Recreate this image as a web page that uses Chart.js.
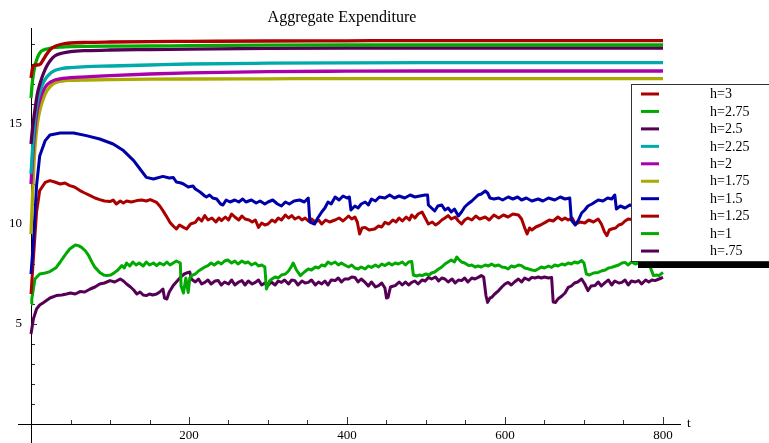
<!DOCTYPE html>
<html><head><meta charset="utf-8">
<script src="https://cdn.jsdelivr.net/npm/chart.js@4/dist/chart.umd.min.js"></script>
<style>html,body{margin:0;padding:0;background:#fff}#wrap{width:769px;height:443px;position:relative}</style>
</head><body><div id="wrap"><canvas id="c" width="769" height="443"></canvas></div>
<script>
const titleText = 'Aggregate Expenditure';
const axisLabelX = 't';
const seriesLabels = ['h=3','h=2.75','h=2.5','h=2.25','h=2','h=1.75','h=1.5','h=1.25','h=1','h=.75'];
const seriesColors = ['#aa0000','#00aa00','#550055','#00aaaa','#aa00aa','#aaaa00','#0000aa','#aa0000','#00aa00','#550055'];
const xTickLabels = [200,400,600,800];
const yTickLabels = [5,10,15];

// smooth high-h series on a shared time grid
const tSmooth = [0,2,5,8,12,16,20,25,30,40,50,70,100,150,200,300,400,500,600,800];
const h300 = [17.3,17.8,17.95,17.95,18.0,18.25,18.5,18.75,18.88,19.0,19.05,19.08,19.1,19.12,19.13,19.15,19.16,19.17,19.17,19.17];
const h275 = [16.3,17.2,17.9,18.3,18.6,18.7,18.75,18.8,18.83,18.85,18.87,18.88,18.89,18.9,18.92,18.94,18.95,18.95,18.95,18.95];
const h250 = [14.0,14.8,15.7,16.5,17.1,17.55,17.9,18.2,18.4,18.55,18.62,18.67,18.7,18.72,18.74,18.78,18.8,18.8,18.8,18.8];
const h225 = [12.5,13.8,15.3,16.1,16.7,17.1,17.35,17.55,17.68,17.78,17.82,17.87,17.9,17.95,18.0,18.04,18.06,18.07,18.07,18.07];
const h200 = [12.0,13.3,14.8,15.7,16.3,16.7,16.95,17.1,17.2,17.28,17.32,17.36,17.42,17.5,17.56,17.62,17.64,17.65,17.65,17.65];
const h175 = [9.5,11.5,13.8,15.0,15.8,16.3,16.65,16.9,17.05,17.15,17.18,17.2,17.22,17.24,17.25,17.26,17.27,17.27,17.27,17.27];

// noisy low-h series as [t, value] readings
const h150 = [[0,7.5],[3,9.1],[7,11.9],[11,13.4],[18,14.17],[24,14.45],[37,14.55],[54,14.55],[70,14.42],[87,14.25],[104,14.0],[117,13.67],[130,13.17],[138,12.75],[146,12.33],[155,12.25],[167,12.38],[175,12.3],[180,12.33],[184,12.1],[190,12.05],[193,12.0],[199,11.85],[205,11.9],[208,11.75],[214,11.6],[220,11.4],[222,11.35],[226,11.45],[230,11.3],[235,11.25],[240,11.0],[243,10.95],[247,11.2],[252,11.1],[258,11.2],[263,11.1],[268,11.25],[272,11.1],[279,11.2],[285,11.05],[290,11.15],[296,11.0],[300,11.1],[306,11.2],[312,11.0],[317,10.9],[322,11.1],[327,11.0],[333,11.15],[340,11.2],[346,11.1],[351,11.3],[353,10.1],[359,10.0],[363,10.3],[368,10.6],[372,10.8],[376,11.1],[380,11.0],[385,11.35],[390,11.2],[395,11.4],[400,11.3],[403,11.35],[405,10.7],[410,10.9],[414,10.8],[418,11.0],[423,11.1],[427,10.95],[431,11.25],[436,11.15],[441,11.35],[448,11.3],[454,11.45],[460,11.3],[466,11.4],[473,11.3],[480,11.45],[486,11.35],[492,11.4],[499,11.45],[502,11.45],[503,10.95],[507,10.8],[511,10.65],[515,10.9],[520,10.95],[524,10.7],[528,10.8],[532,10.6],[536,10.75],[541,10.4],[545,10.6],[549,10.85],[553,11.0],[558,11.15],[562,11.3],[566,11.45],[570,11.5],[575,11.65],[578,11.55],[581,11.3],[586,11.25],[592,11.3],[597,11.2],[604,11.35],[610,11.25],[616,11.35],[621,11.2],[627,11.3],[634,11.15],[642,11.25],[648,11.15],[655,11.3],[663,11.2],[670,11.35],[676,11.25],[682,11.3],[684,10.2],[689,9.95],[693,10.2],[697,10.55],[701,10.7],[705,10.9],[710,11.0],[714,11.1],[718,11.2],[724,11.15],[730,11.3],[735,11.25],[739,11.45],[741,10.75],[746,10.9],[752,10.8],[758,10.95],[765,10.85],[775,11.0],[785,10.9],[800,11.0]];
const h125 = [[0,6.5],[3,8.25],[7,10.58],[11,11.67],[18,12.08],[24,12.17],[30,12.1],[37,12.0],[43,12.05],[49,11.92],[55,11.85],[62,11.67],[68,11.55],[75,11.42],[81,11.3],[87,11.22],[93,11.15],[100,11.12],[104,11.2],[108,11.0],[113,11.15],[117,11.05],[121,11.15],[127,11.1],[134,11.17],[140,11.2],[146,11.15],[151,11.22],[159,11.08],[163,10.9],[167,10.67],[172,10.35],[176,10.08],[180,9.9],[184,9.75],[188,9.95],[193,9.83],[197,9.75],[202,10.0],[208,10.08],[212,10.3],[216,10.15],[220,10.42],[224,10.2],[229,10.3],[234,10.1],[238,10.3],[241,10.17],[246,10.35],[250,10.2],[254,10.5],[258,10.35],[263,10.2],[267,10.4],[271,10.25],[276,10.2],[280,10.1],[284,10.2],[288,9.83],[292,10.05],[296,9.95],[300,10.0],[305,10.2],[309,10.1],[313,10.3],[317,10.2],[322,10.45],[326,10.3],[330,10.42],[334,10.25],[339,10.35],[343,10.2],[347,10.3],[351,10.15],[355,10.25],[360,10.1],[364,10.2],[368,10.0],[373,10.2],[378,10.1],[385,10.2],[390,10.3],[395,10.15],[402,10.4],[406,10.25],[410,10.35],[413,10.1],[416,9.5],[419,9.8],[423,9.83],[428,9.7],[435,9.75],[440,9.9],[444,9.85],[448,10.08],[453,10.0],[458,10.2],[462,10.1],[466,10.3],[470,10.15],[475,10.35],[479,10.2],[482,10.45],[486,10.3],[490,10.5],[495,10.6],[499,10.3],[503,10.0],[508,10.1],[512,9.95],[516,10.05],[520,10.2],[524,10.3],[528,10.42],[532,10.25],[537,10.35],[541,10.15],[545,10.0],[549,10.2],[553,10.3],[558,10.2],[563,10.4],[568,10.25],[575,10.35],[580,10.2],[586,10.45],[592,10.3],[598,10.45],[604,10.35],[610,10.5],[617,10.45],[621,10.25],[625,9.8],[628,9.5],[631,9.8],[634,9.7],[639,9.85],[645,9.95],[651,10.08],[656,10.2],[661,10.15],[667,10.35],[672,10.2],[676,10.3],[680,10.2],[685,10.3],[689,10.0],[695,10.1],[701,10.05],[706,10.2],[712,10.1],[718,10.25],[722,10.0],[726,9.6],[729,9.42],[732,9.7],[735,9.75],[740,9.8],[744,9.95],[748,10.0],[752,10.15],[756,10.25],[765,10.2],[775,10.3],[785,10.2],[800,10.25]];
const h100 = [[0,6.0],[1,6.25],[5,7.25],[11,7.5],[18,7.55],[24,7.62],[32,7.83],[37,8.1],[41,8.33],[45,8.55],[49,8.75],[56,8.95],[60,8.92],[64,8.83],[69,8.65],[73,8.42],[77,8.1],[81,7.83],[87,7.58],[92,7.45],[96,7.42],[101,7.45],[106,7.58],[110,7.7],[115,7.92],[118,7.8],[121,8.05],[125,7.9],[129,8.1],[133,7.95],[137,8.05],[142,7.9],[146,8.1],[150,7.95],[155,8.05],[159,7.92],[163,8.05],[168,7.95],[172,8.1],[176,7.95],[180,8.05],[184,8.15],[189,8.05],[190,6.9],[193,6.55],[196,7.3],[199,6.58],[201,7.3],[203,7.42],[208,7.5],[212,7.65],[216,7.75],[220,7.85],[224,7.92],[228,8.05],[232,7.95],[237,8.1],[241,8.0],[245,8.15],[249,8.2],[254,8.05],[258,8.15],[262,8.0],[267,8.15],[271,8.05],[275,8.1],[279,7.95],[284,8.05],[288,7.9],[292,7.95],[296,7.85],[298,6.75],[302,7.15],[305,7.25],[309,7.35],[313,7.3],[317,7.45],[322,7.5],[326,7.65],[330,7.9],[332,8.05],[336,7.7],[341,7.42],[346,7.6],[351,7.75],[355,7.7],[360,7.85],[364,7.8],[368,7.95],[372,7.9],[376,8.1],[380,8.0],[385,8.1],[389,7.95],[393,8.05],[397,7.95],[402,7.85],[406,7.95],[410,7.8],[414,7.75],[418,7.85],[423,7.75],[427,7.9],[431,7.83],[436,7.95],[440,7.85],[444,8.0],[448,7.92],[453,8.05],[457,7.95],[461,8.05],[465,8.0],[470,8.1],[474,7.95],[478,8.1],[482,8.12],[484,7.45],[488,7.4],[492,7.45],[495,7.42],[500,7.5],[504,7.45],[507,7.55],[511,7.6],[516,7.75],[520,7.85],[524,8.0],[528,8.1],[532,8.2],[536,8.1],[539,8.35],[541,8.25],[545,8.1],[549,8.05],[554,7.92],[558,7.95],[562,7.85],[566,7.9],[570,7.85],[575,7.95],[579,7.9],[583,8.0],[587,7.9],[592,7.95],[596,7.85],[600,7.83],[604,7.75],[608,7.9],[612,7.85],[617,7.95],[621,7.92],[625,7.8],[630,7.75],[634,7.7],[638,7.67],[642,7.75],[646,7.85],[650,7.8],[655,7.9],[659,7.83],[663,7.95],[667,7.9],[672,8.0],[676,7.95],[680,8.05],[684,8.0],[688,8.1],[692,8.05],[697,8.17],[700,8.05],[703,7.5],[707,7.45],[712,7.55],[718,7.58],[722,7.65],[727,7.7],[731,7.8],[735,7.83],[740,7.9],[744,7.95],[748,8.05],[752,8.08],[756,7.95],[760,8.1],[765,8.0],[769,8.05],[773,7.95],[778,8.05],[784,7.83],[788,7.42],[792,7.45],[795,7.42],[800,7.58]];
const h075 = [[0,4.5],[3,5.25],[7,5.75],[11,5.95],[16,6.08],[24,6.3],[32,6.42],[39,6.45],[45,6.5],[50,6.55],[56,6.5],[62,6.62],[68,6.6],[75,6.75],[81,6.85],[87,7.0],[93,7.05],[100,7.17],[106,7.1],[113,7.25],[117,7.15],[121,7.0],[126,6.85],[130,6.7],[134,6.5],[138,6.6],[142,6.45],[146,6.42],[150,6.5],[154,6.45],[159,6.5],[163,6.6],[167,6.75],[169,6.3],[172,6.25],[175,6.6],[180,6.92],[184,7.1],[189,7.33],[194,7.5],[199,7.58],[201,7.6],[203,7.25],[208,7.1],[212,7.25],[216,7.0],[220,7.08],[224,7.2],[228,7.0],[233,7.15],[237,7.17],[241,6.95],[245,7.1],[250,7.0],[254,7.2],[258,6.95],[263,7.1],[267,7.17],[271,6.95],[275,7.15],[280,7.0],[284,7.08],[288,7.2],[292,6.95],[296,7.05],[300,6.92],[304,7.1],[309,6.95],[313,7.15],[317,7.08],[321,7.2],[326,7.0],[330,7.2],[334,7.17],[338,6.95],[343,7.15],[347,7.05],[351,7.08],[355,7.2],[360,6.95],[364,7.1],[368,7.0],[372,7.15],[376,6.95],[380,7.2],[385,7.17],[389,7.3],[393,7.1],[397,7.25],[402,7.25],[406,7.35],[410,7.33],[414,7.1],[418,7.25],[423,7.08],[427,6.9],[431,7.1],[436,6.85],[440,6.92],[444,7.05],[448,6.8],[450,6.3],[452,6.33],[455,6.85],[459,6.9],[461,6.92],[466,7.1],[470,6.95],[474,7.1],[478,6.95],[482,7.08],[486,7.15],[490,7.0],[495,7.2],[499,7.15],[503,7.33],[507,7.25],[512,7.35],[516,7.15],[520,7.3],[524,7.25],[528,7.1],[533,7.25],[537,7.05],[541,7.2],[545,7.17],[549,7.3],[553,7.1],[558,7.3],[562,7.25],[566,7.33],[570,7.42],[573,7.35],[576,6.4],[578,6.08],[581,6.3],[583,6.33],[587,6.5],[592,6.67],[596,6.85],[600,7.0],[604,7.08],[608,6.95],[612,7.1],[617,7.25],[621,7.1],[625,7.3],[630,7.2],[634,7.33],[638,7.3],[642,7.35],[646,7.3],[650,7.35],[655,7.3],[659,7.33],[661,6.1],[664,6.08],[667,6.25],[672,6.4],[676,6.55],[680,6.83],[684,6.9],[688,7.05],[692,7.1],[697,7.25],[701,7.0],[705,6.67],[709,6.9],[714,6.92],[718,7.1],[722,6.9],[727,7.08],[731,7.2],[735,6.95],[739,7.15],[744,7.05],[748,7.08],[752,7.2],[756,6.95],[760,7.15],[765,7.1],[769,7.17],[773,7.0],[778,7.2],[782,7.1],[786,7.2],[790,7.17],[795,7.25],[800,7.33]];

const SERIF = '"Liberation Serif","DejaVu Serif",serif';
const smoothSets = [h300,h275,h250,h225,h200,h175].map(v => v.map((y,i)=>({x:tSmooth[i],y})));
const noisySets = [h150,h125,h100,h075].map(a => a.map(p=>({x:p[0],y:p[1]})));
const allData = smoothSets.concat(noisySets);

const datasets = allData.map((d,i)=>({
  label: seriesLabels[i],
  data: d,
  borderColor: seriesColors[i],
  backgroundColor: seriesColors[i],
  borderWidth: i<6 ? 3.3 : 3,
  pointRadius: 0,
  fill: false,
  tension: 0,
  cubicInterpolationMode: i<6 ? 'monotone' : 'default',
  borderJoinStyle: 'round',
  borderCapStyle: 'butt'
}));

const axesPlugin = {
  id: 'mmaAxes',
  beforeDatasetsDraw(chart){
    const ctx = chart.ctx, xs = chart.scales.x, ys = chart.scales.y, ca = chart.chartArea;
    const x0 = xs.getPixelForValue(0), y0 = ys.getPixelForValue(0);
    ctx.save();
    ctx.strokeStyle = '#000'; ctx.lineWidth = 1;
    ctx.beginPath();
    ctx.moveTo(ca.left, Math.round(y0)+0.5); ctx.lineTo(ca.right, Math.round(y0)+0.5);
    ctx.moveTo(Math.round(x0)+0.5, ca.top); ctx.lineTo(Math.round(x0)+0.5, ca.bottom);
    ctx.stroke();
    ctx.lineWidth = 0.8;
    ctx.beginPath();
    for (let v=1; v<=19; v++){
      const py = Math.round(ys.getPixelForValue(v))+0.5;
      const len = (v%5===0)?6:4;
      ctx.moveTo(x0, py); ctx.lineTo(x0+len, py);
    }
    for (let t=50; t<=800; t+=50){
      const px = Math.round(xs.getPixelForValue(t))+0.5;
      const len = (t%200===0)?7:4;
      ctx.moveTo(px, y0); ctx.lineTo(px, y0-len);
    }
    ctx.stroke();
    ctx.fillStyle = '#000';
    ctx.font = '13px ' + SERIF;
    ctx.textAlign = 'right'; ctx.textBaseline = 'middle';
    yTickLabels.forEach(v => ctx.fillText(String(v), x0-9, ys.getPixelForValue(v)));
    ctx.textAlign = 'center'; ctx.textBaseline = 'top';
    xTickLabels.forEach(t => ctx.fillText(String(t), xs.getPixelForValue(t), y0+5));
    ctx.textAlign = 'left'; ctx.textBaseline = 'middle';
    ctx.fillText(axisLabelX, ca.right+6, y0);
    ctx.restore();
  },
  afterDatasetsDraw(chart){
    const ctx = chart.ctx;
    ctx.save();
    // title
    ctx.fillStyle = '#000';
    ctx.font = '16px ' + SERIF;
    ctx.textAlign = 'center'; ctx.textBaseline = 'middle';
    ctx.fillText(titleText, 342, 18);
    // legend box with shadow
    ctx.fillStyle = '#000';
    ctx.fillRect(638, 261, 140, 7);
    ctx.fillStyle = '#fff';
    ctx.fillRect(631.5, 84.5, 150, 177);
    ctx.strokeStyle = '#333'; ctx.lineWidth = 1;
    ctx.strokeRect(631.5, 84.5, 150, 177);
    ctx.font = '14px ' + SERIF;
    ctx.textAlign = 'left'; ctx.textBaseline = 'middle';
    seriesLabels.forEach((lab,i)=>{
      const y = 94 + i*17.45;
      ctx.strokeStyle = seriesColors[i]; ctx.lineWidth = 3;
      ctx.beginPath(); ctx.moveTo(641, y); ctx.lineTo(659, y); ctx.stroke();
      ctx.fillStyle = '#000';
      ctx.fillText(lab, 710, y+0.5);
    });
    ctx.restore();
  }
};

new Chart(document.getElementById('c'), {
  type: 'line',
  data: { datasets },
  options: {
    responsive: false,
    animation: false,
    devicePixelRatio: 1,
    parsing: true,
    layout: { padding: { left: 18, right: 88, top: 28, bottom: 0 } },
    plugins: { legend: { display: false }, title: { display: false }, tooltip: { enabled: false } },
    scales: {
      x: { type: 'linear', min: -16.46, max: 822.8, display: false },
      y: { type: 'linear', min: -0.95, max: 19.8, display: false }
    }
  },
  plugins: [axesPlugin]
});
</script>
</body></html>
